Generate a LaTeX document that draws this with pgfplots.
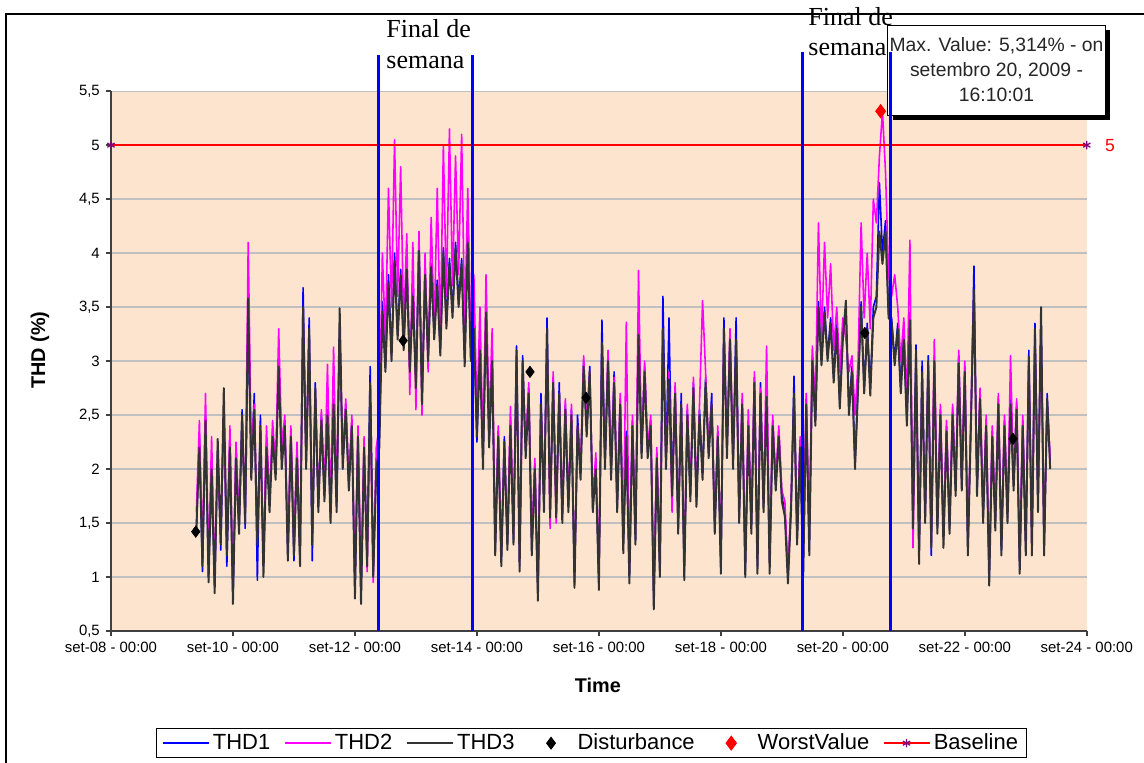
\documentclass[border=0pt]{standalone}
\usepackage{pgfplots}
\pgfplotsset{compat=1.18}
\usepackage{pgfplotstable}
\usepackage{fontspec}
\setmainfont{Liberation Sans}
\newfontfamily\timesfont{Liberation Serif}
\definecolor{peach}{RGB}{253,228,207}
\definecolor{thdgray}{RGB}{51,51,51}
\definecolor{gridgray}{RGB}{192,192,192}
\definecolor{axgray}{RGB}{64,64,64}
\definecolor{basepurple}{RGB}{128,0,128}
\definecolor{thdblue}{RGB}{0,0,255}
\definecolor{thdmag}{RGB}{255,0,255}
\definecolor{basered}{RGB}{255,0,0}

\pgfplotstableread{
d t1 t2 t3
1.40 1.40 1.60 1.45
1.45 2.30 2.45 2.20
1.50 1.05 1.20 1.10
1.55 2.50 2.70 2.45
1.60 1.00 1.10 0.95
1.65 2.10 2.30 2.00
1.70 0.90 1.00 0.85
1.75 2.20 2.10 2.28
1.80 1.25 1.40 1.30
1.85 2.60 2.50 2.75
1.90 1.10 1.30 1.20
1.95 2.30 2.40 2.20
2.00 0.80 0.85 0.75
2.05 2.20 2.25 2.10
2.10 1.45 1.50 1.40
2.15 2.55 2.45 2.50
2.20 1.45 1.60 1.50
2.25 3.40 4.10 3.58
2.30 2.00 2.20 1.90
2.35 2.70 2.60 2.55
2.40 0.97 1.40 1.30
2.45 2.50 2.30 2.40
2.50 1.10 1.20 1.00
2.55 2.25 2.40 2.20
2.60 1.70 1.70 1.60
2.65 2.35 2.45 2.30
2.70 1.95 2.00 1.90
2.75 3.00 3.30 2.95
2.80 2.10 2.20 2.00
2.85 2.45 2.50 2.40
2.90 1.20 1.25 1.15
2.95 2.35 2.40 2.30
3.00 1.15 1.30 1.20
3.05 2.20 2.25 2.10
3.10 1.15 1.20 1.10
3.15 3.68 3.40 3.50
3.20 2.05 2.10 2.00
3.25 3.40 3.20 3.30
3.30 1.15 1.40 1.30
3.35 2.80 2.70 2.75
3.40 1.65 1.70 1.60
3.45 2.50 2.55 2.45
3.50 1.75 1.80 1.70
3.55 2.55 2.97 2.50
3.60 1.55 1.60 1.50
3.65 2.65 3.13 2.60
3.70 1.65 1.70 1.60
3.75 3.30 3.33 3.49
3.80 2.05 2.10 2.00
3.85 2.60 2.65 2.55
3.90 1.85 1.90 1.80
3.95 2.45 2.50 2.40
4.00 0.85 0.95 0.80
4.05 2.35 2.40 2.30
4.10 0.80 0.90 0.75
4.15 2.25 2.30 2.20
4.20 1.15 1.05 1.10
4.25 2.95 2.60 2.80
4.30 1.05 0.95 1.00
4.35 2.05 2.20 2.00
4.40 2.30 2.40 2.20
4.45 3.55 4.00 3.46
4.50 2.95 3.20 2.90
4.55 3.80 4.60 3.72
4.60 3.05 3.50 3.00
4.65 4.00 5.05 3.93
4.70 3.25 3.60 3.20
4.75 3.85 4.80 3.80
4.80 3.15 3.30 3.10
4.85 3.90 4.18 3.85
4.90 2.95 2.69 2.90
4.95 3.65 4.10 3.60
5.00 2.80 2.55 2.75
5.05 4.10 4.20 4.02
5.10 2.65 2.50 2.60
5.15 3.85 4.00 3.80
5.20 3.05 2.90 3.00
5.25 3.90 4.33 3.87
5.30 3.25 3.30 3.20
5.35 3.75 4.60 3.70
5.40 3.10 3.20 3.05
5.45 4.05 5.00 4.00
5.50 3.35 3.60 3.30
5.55 3.95 5.15 3.90
5.60 3.45 3.70 3.40
5.65 4.10 4.90 4.05
5.70 3.55 3.80 3.50
5.75 3.95 5.10 3.90
5.80 3.00 3.30 2.95
5.85 4.15 4.60 4.10
5.90 3.05 3.20 3.00
5.95 3.35 3.80 3.30
6.00 2.25 2.50 2.30
6.05 3.15 3.50 3.10
6.10 2.05 2.20 2.00
6.15 3.50 3.80 3.45
6.20 2.25 2.40 2.20
6.25 3.05 3.30 3.00
6.30 1.25 1.30 1.20
6.35 2.35 2.40 2.30
6.40 1.15 1.20 1.10
6.45 2.30 2.25 2.25
6.50 1.30 1.35 1.25
6.55 2.45 2.58 2.40
6.60 1.35 1.40 1.30
6.65 3.14 3.00 3.10
6.70 1.10 1.15 1.05
6.75 3.05 2.85 3.00
6.80 2.15 2.20 2.10
6.85 2.75 2.80 2.70
6.90 1.25 1.30 1.20
6.95 2.05 2.10 2.00
7.00 0.85 0.90 0.78
7.05 2.70 2.60 2.60
7.10 1.65 1.70 1.60
7.15 3.40 3.20 3.30
7.20 1.60 1.45 1.55
7.25 2.85 2.90 2.80
7.30 1.60 1.50 1.55
7.35 2.80 2.70 2.70
7.40 1.55 1.60 1.50
7.45 2.60 2.65 2.55
7.50 1.65 1.70 1.60
7.55 2.55 2.60 2.50
7.60 0.95 1.00 0.90
7.65 2.50 2.40 2.40
7.70 1.95 2.00 1.90
7.75 3.00 3.05 2.95
7.80 2.35 2.40 2.30
7.85 2.95 2.90 2.90
7.90 1.65 1.70 1.60
7.95 2.05 2.15 2.00
8.00 0.95 1.00 0.88
8.05 3.38 3.10 3.17
8.10 2.05 2.10 2.00
8.15 3.05 3.10 3.00
8.20 1.95 2.00 1.90
8.25 2.90 2.85 2.80
8.30 1.65 1.70 1.60
8.35 2.65 2.70 2.60
8.40 1.30 1.35 1.22
8.45 2.35 3.36 2.30
8.50 1.00 1.05 0.94
8.55 2.45 2.50 2.40
8.60 1.35 1.40 1.30
8.65 3.30 3.84 3.24
8.70 2.15 2.20 2.10
8.75 2.95 3.00 2.90
8.80 2.15 2.20 2.10
8.85 2.45 2.50 2.40
8.90 0.80 0.85 0.70
8.95 2.15 2.20 2.10
9.00 1.05 1.10 1.00
9.05 3.60 3.20 3.30
9.10 2.05 2.10 2.00
9.15 3.40 2.90 2.83
9.20 1.80 1.60 1.75
9.25 2.75 2.80 2.70
9.30 1.45 1.50 1.40
9.35 2.70 2.60 2.60
9.40 1.05 1.10 0.97
9.45 2.55 2.60 2.50
9.50 1.75 1.80 1.70
9.55 2.80 2.85 2.75
9.60 1.70 1.75 1.65
9.65 2.55 2.60 2.50
9.70 1.95 3.56 1.90
9.75 2.85 2.90 2.80
9.80 2.15 2.20 2.10
9.85 2.70 2.60 2.60
9.90 1.45 1.50 1.40
9.95 2.35 2.40 2.30
10.00 1.10 1.15 1.03
10.05 3.40 3.25 3.30
10.10 2.15 2.20 2.10
10.15 3.25 3.30 3.20
10.20 2.05 2.10 2.00
10.25 3.40 3.10 3.20
10.30 1.55 1.60 1.50
10.35 2.65 2.70 2.60
10.40 1.05 1.10 1.00
10.45 2.45 2.55 2.40
10.50 1.45 1.50 1.40
10.55 2.85 2.90 2.80
10.60 1.10 1.15 1.03
10.65 2.80 2.75 2.70
10.70 1.65 1.70 1.60
10.75 2.75 3.14 2.67
10.80 1.10 1.15 1.03
10.85 2.45 2.50 2.40
10.90 1.85 1.90 1.80
10.95 2.35 2.40 2.30
11.00 1.75 1.80 1.70
11.05 1.60 1.70 1.56
11.10 1.00 1.05 0.94
11.15 1.65 1.70 1.60
11.20 2.86 2.60 2.70
11.25 1.35 1.40 1.30
11.30 2.25 2.30 2.20
11.35 1.05 1.20 1.00
11.40 2.65 2.70 2.60
11.45 1.25 1.40 1.20
11.50 3.05 3.14 3.00
11.55 2.45 2.60 2.40
11.60 3.55 4.28 3.50
11.65 3.00 3.20 2.96
11.70 3.50 4.10 3.45
11.75 3.05 3.40 3.00
11.80 3.40 3.90 3.35
11.85 2.85 3.10 2.80
11.90 3.35 3.50 3.30
11.95 2.60 2.90 2.56
12.00 3.25 3.40 3.20
12.05 3.45 3.20 3.56
12.10 2.55 2.90 2.50
12.15 2.95 3.05 2.90
12.20 2.05 2.50 2.00
12.25 2.80 3.00 2.75
12.30 3.55 4.28 3.50
12.35 2.75 3.40 2.70
12.40 3.35 4.00 3.30
12.45 2.75 3.30 2.68
12.50 3.50 4.50 3.40
12.55 3.60 4.28 3.50
12.60 4.65 4.90 4.20
12.65 4.00 5.31 3.90
12.70 4.30 4.75 4.20
12.75 3.45 3.80 3.40
12.80 3.40 3.60 3.36
12.85 3.00 3.80 2.96
12.90 3.35 3.50 3.30
12.95 2.75 3.00 2.70
13.00 3.25 3.40 3.20
13.05 2.45 2.60 2.40
13.10 3.45 4.12 3.38
13.15 1.50 1.27 1.45
13.20 3.15 2.90 3.10
13.25 1.20 1.27 1.12
13.30 3.00 2.80 2.90
13.35 1.55 1.60 1.50
13.40 3.05 2.95 3.00
13.45 1.20 1.35 1.27
13.50 3.05 3.20 3.00
13.55 1.45 1.50 1.40
13.60 2.55 2.60 2.50
13.65 1.35 1.40 1.27
13.70 2.40 2.45 2.35
13.75 1.45 1.50 1.40
13.80 2.55 2.60 2.50
13.85 1.80 1.85 1.75
13.90 3.05 3.10 2.98
13.95 1.85 1.90 1.80
14.00 2.95 3.00 2.90
14.05 1.25 1.30 1.20
14.10 2.45 2.50 2.40
14.15 3.88 3.60 3.66
14.20 1.80 1.85 1.75
14.25 2.70 2.75 2.65
14.30 1.55 1.60 1.50
14.35 2.45 2.50 2.40
14.40 1.00 1.05 0.92
14.45 2.35 2.40 2.30
14.50 1.50 1.55 1.43
14.55 2.65 2.70 2.60
14.60 1.25 1.30 1.20
14.65 2.45 2.50 2.40
14.70 1.55 1.60 1.50
14.75 2.65 3.05 2.60
14.80 1.85 1.90 1.80
14.85 2.60 2.65 2.55
14.90 1.10 1.15 1.03
14.95 2.45 2.50 2.40
15.00 1.25 1.30 1.20
15.05 3.10 3.00 3.04
15.10 1.25 1.30 1.20
15.15 3.35 3.20 3.30
15.20 1.65 1.70 1.60
15.25 3.45 3.30 3.50
15.30 1.25 1.30 1.20
15.35 2.70 2.60 2.65
15.40 2.05 2.10 2.00
}\thd

\pgfplotstableread{
d v
1.39 1.42
4.79 3.19
6.87 2.90
7.79 2.66
12.36 3.26
14.79 2.28
}\dist

\begin{document}
\begin{tikzpicture}[x=0.02cm,y=0.02cm]
\useasboundingbox (0,0) rectangle (1144,762);
\fill[white] (0,0) rectangle (1144,762);
\draw[black, line width=0.045cm] (6,-20) -- (6,748) -- (1200,748);
\begin{axis}[
  at={(2.22cm,2.62cm)}, anchor=south west,
  scale only axis, width=19.52cm, height=10.8cm,
  xmin=0, xmax=16, ymin=0.5, ymax=5.5,
  clip=false,
  axis background/.style={fill=peach},
  axis x line*=bottom, axis y line*=left,
  axis line style={draw=axgray, line width=0.03cm},
  tick align=outside, major tick length=0.1cm,
  tick style={draw=axgray, line width=0.03cm},
  xtick={0,2,...,16},
  xticklabels={set-08 - 00:00, set-10 - 00:00, set-12 - 00:00, set-14 - 00:00, set-16 - 00:00, set-18 - 00:00, set-20 - 00:00, set-22 - 00:00, set-24 - 00:00},
  ytick={0.5,1,...,5.5},
  /pgf/number format/use comma,
  /pgf/number format/assume math mode=true,
  ticklabel style={font=\fontsize{8.5}{10}\selectfont, text=black},
  ymajorgrids,
  grid style={draw=gridgray, line width=0.025cm},
  xlabel={Time}, ylabel={THD (\%)},
  xlabel style={at={(axis description cs:0.499,-0.10)}, anchor=center, font=\bfseries\fontsize{11.3}{13}\selectfont},
  ylabel style={at={(axis description cs:-0.0727,0.52)}, anchor=center, font=\bfseries\fontsize{11.3}{13}\selectfont},
  legend columns=6,
  legend style={at={(axis description cs:0.0461,-0.1796)}, anchor=north west, draw=black, line width=0.7pt, fill=white, font=\fontsize{12.5}{14}\selectfont, inner xsep=3pt, inner ysep=1pt, /tikz/every even column/.append style={column sep=0.2cm}},
  legend image code/.code={\path[draw=none,fill=none] (0cm,-0.1cm) rectangle (0.92cm,0.1cm); \draw[mark repeat=2,mark phase=2] plot coordinates {(0cm,0cm) (0.46cm,0cm) (0.92cm,0cm)};},
]
\addplot[thdblue, line width=0.9pt, line join=round, mark=none] table[x=d, y=t1] {\thd};
\addlegendentry{THD1}
\addplot[thdmag, line width=0.9pt, line join=round, mark=none] table[x=d, y=t2] {\thd};
\addlegendentry{THD2}
\addplot[thdgray, line width=1.1pt, line join=round, mark=none] table[x=d, y=t3] {\thd};
\addlegendentry{THD3}
\addplot[/tikz/only marks, mark=diamond*, mark size=3.2pt, black] table[x=d, y=v] {\dist};
\addlegendentry{Disturbance}
\addplot[/tikz/only marks, mark=diamond*, mark size=3.8pt, red] coordinates {(12.62,5.314)};
\addlegendentry{WorstValue}
\addplot[draw=basered, line width=0.9pt, mark=asterisk, mark size=2.4pt, mark options={draw=basepurple, line width=0.7pt}] coordinates {(0,5) (16,5)};
\addlegendentry{Baseline}
% tooltip box
\fill[black] (axis cs:12.82,5.232) rectangle (axis cs:16.38,6.065);
\draw[black, fill=white, line width=0.6pt] (axis cs:12.74,5.278) rectangle (axis cs:16.30,6.111);
\node[align=center, font=\fontsize{11}{14.2}\selectfont, text=black!85] at (axis cs:14.52,5.70) {Max. Value: 5,314\% - on\\setembro 20, 2009 -\\16:10:01};
% weekend lines
\addplot[blue, line width=0.07cm, forget plot] coordinates {(4.389,0.5) (4.389,5.833)};
\addplot[blue, line width=0.07cm, forget plot] coordinates {(5.930,0.5) (5.930,5.833)};
\addplot[blue, line width=0.07cm, forget plot] coordinates {(11.339,0.5) (11.339,5.86)};
\addplot[blue, line width=0.07cm, forget plot] coordinates {(12.782,0.5) (12.782,5.86)};
\node[anchor=base west, font=\timesfont\fontsize{14.8}{17}\selectfont, inner sep=0pt] at (axis cs:4.51,6.0) {Final de};
\node[anchor=base west, font=\timesfont\fontsize{14.8}{17}\selectfont, inner sep=0pt] at (axis cs:4.51,5.713) {semana};
\node[anchor=base west, font=\timesfont\fontsize{14.8}{17}\selectfont, inner sep=0pt] at (axis cs:11.43,6.111) {Final de};
\node[anchor=base west, font=\timesfont\fontsize{14.8}{17}\selectfont, inner sep=0pt] at (axis cs:11.43,5.833) {semana};
\node[anchor=west, text=red, font=\fontsize{10}{12}\selectfont] at (axis cs:16.2,5) {5};
\end{axis}
\end{tikzpicture}
\end{document}
